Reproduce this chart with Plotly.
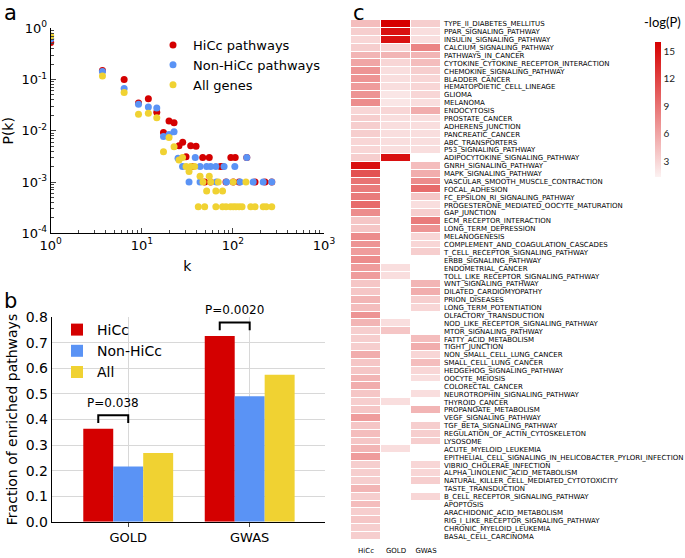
import plotly.graph_objects as go
import numpy as np

W, H = 685, 558
def px(x): return x / W
def py(y): return 1 - y / H

RED = "#d40000"
BLUE = "#5a93f5"
YELLOW = "#f0d232"

# ---------------- Panel a: degree distribution ----------------
hicc_k = [1.0, 3.7, 6.4, 9.2, 11.8, 14.6, 17.3, 19.9, 22.6, 25.6, 28.1, 30.6, 34.4, 36.2, 39.4,
          46.6, 49, 55, 57, 73, 77, 84, 95, 101, 106, 117, 142, 175, 225, 267]
hicc_p = [0.53, 0.15, 0.10, 0.035, 0.042, 0.023, 0.0093, 0.0155, 0.0144, 0.0051, 0.006, 0.0031, 0.0051, 0.002, 0.005,
          0.003, 0.001, 0.003, 0.001, 0.002, 0.002, 0.001, 0.003, 0.001, 0.003, 0.001, 0.003, 0.001, 0.001, 0.001]

non_k = [1.0, 3.7, 6.4, 9.2, 11.8, 14.6, 17.3, 19.9, 22.6, 25, 28, 33, 38.6, 43.6, 43.6, 51.5, 57, 65, 66,
         80, 85, 105, 120, 142, 167, 215, 267]
non_p = [0.62, 0.143, 0.067, 0.033, 0.029, 0.028, 0.0077, 0.0085, 0.0096, 0.0029, 0.002, 0.001, 0.003, 0.002, 0.001,
         0.002, 0.002, 0.002, 0.001, 0.002, 0.001, 0.002, 0.001, 0.003, 0.001, 0.001, 0.001]

all_k = [1.0, 3.7, 6.4, 9.2, 11.8, 14.6, 17.3, 19.9, 22.6, 25.6, 28, 30.6, 33, 34.4, 38, 43.6, 47, 51.5, 55, 57,
         65, 69, 77, 101, 139, 41.7, 49, 65, 77, 84, 94, 101, 108, 117, 126, 157, 175, 215, 232, 267]
all_p = [0.71, 0.117, 0.056, 0.021, 0.022, 0.018, 0.0039, 0.0074, 0.0049, 0.0027, 0.003, 0.002, 0.0016, 0.002, 0.002,
         0.0013, 0.001, 0.00067, 0.0013, 0.001, 0.00067, 0.001, 0.00067, 0.001, 0.001,
         0.00033, 0.00033, 0.00033, 0.00033, 0.00033, 0.00033, 0.00033, 0.00033, 0.00033, 0.00033,
         0.00033, 0.00033, 0.00033, 0.00033, 0.00033]

a_xticks = [1, 10, 100, 1000]
a_xticklabels = ["10<sup>0</sup>", "10<sup>1</sup>", "10<sup>2</sup>", "10<sup>3</sup>"]
a_yticks = [1e-4, 1e-3, 1e-2, 1e-1, 1]
a_yticklabels = ["10<sup>-4</sup>", "10<sup>-3</sup>", "10<sup>-2</sup>", "10<sup>-1</sup>", "10<sup>0</sup>"]

# ---------------- Panel b: enriched pathways ----------------
b_categories = ["GOLD", "GWAS"]
b_hicc = [0.364, 0.727]
b_nonhicc = [0.216, 0.491]
b_all = [0.269, 0.575]
b_pvalues = ["P=0.038", "P=0.0020"]

# ---------------- Panel c: heatmap ----------------
pathways = [
    "TYPE_II_DIABETES_MELLITUS", "PPAR_SIGNALING_PATHWAY", "INSULIN_SIGNALING_PATHWAY",
    "CALCIUM_SIGNALING_PATHWAY", "PATHWAYS_IN_CANCER", "CYTOKINE_CYTOKINE_RECEPTOR_INTERACTION",
    "CHEMOKINE_SIGNALING_PATHWAY", "BLADDER_CANCER", "HEMATOPOIETIC_CELL_LINEAGE", "GLIOMA",
    "MELANOMA", "ENDOCYTOSIS", "PROSTATE_CANCER", "ADHERENS_JUNCTION", "PANCREATIC_CANCER",
    "ABC_TRANSPORTERS", "P53_SIGNALING_PATHWAY", "ADIPOCYTOKINE_SIGNALING_PATHWAY",
    "GNRH_SIGNALING_PATHWAY", "MAPK_SIGNALING_PATHWAY", "VASCULAR_SMOOTH_MUSCLE_CONTRACTION",
    "FOCAL_ADHESION", "FC_EPSILON_RI_SIGNALING_PATHWAY", "PROGESTERONE_MEDIATED_OOCYTE_MATURATION",
    "GAP_JUNCTION", "ECM_RECEPTOR_INTERACTION", "LONG_TERM_DEPRESSION", "MELANOGENESIS",
    "COMPLEMENT_AND_COAGULATION_CASCADES", "T_CELL_RECEPTOR_SIGNALING_PATHWAY",
    "ERBB_SIGNALING_PATHWAY", "ENDOMETRIAL_CANCER", "TOLL_LIKE_RECEPTOR_SIGNALING_PATHWAY",
    "WNT_SIGNALING_PATHWAY", "DILATED_CARDIOMYOPATHY", "PRION_DISEASES", "LONG_TERM_POTENTIATION",
    "OLFACTORY_TRANSDUCTION", "NOD_LIKE_RECEPTOR_SIGNALING_PATHWAY", "MTOR_SIGNALING_PATHWAY",
    "FATTY_ACID_METABOLISM", "TIGHT_JUNCTION", "NON_SMALL_CELL_LUNG_CANCER", "SMALL_CELL_LUNG_CANCER",
    "HEDGEHOG_SIGNALING_PATHWAY", "OOCYTE_MEIOSIS", "COLORECTAL_CANCER", "NEUROTROPHIN_SIGNALING_PATHWAY",
    "THYROID_CANCER", "PROPANOATE_METABOLISM", "VEGF_SIGNALING_PATHWAY", "TGF_BETA_SIGNALING_PATHWAY",
    "REGULATION_OF_ACTIN_CYTOSKELETON", "LYSOSOME", "ACUTE_MYELOID_LEUKEMIA",
    "EPITHELIAL_CELL_SIGNALING_IN_HELICOBACTER_PYLORI_INFECTION", "VIBRIO_CHOLERAE_INFECTION",
    "ALPHA_LINOLENIC_ACID_METABOLISM", "NATURAL_KILLER_CELL_MEDIATED_CYTOTOXICITY", "TASTE_TRANSDUCTION",
    "B_CELL_RECEPTOR_SIGNALING_PATHWAY", "APOPTOSIS", "ARACHIDONIC_ACID_METABOLISM",
    "RIG_I_LIKE_RECEPTOR_SIGNALING_PATHWAY", "CHRONIC_MYELOID_LEUKEMIA", "BASAL_CELL_CARCINOMA",
]
heat_columns = ["HiCc", "GOLD", "GWAS"]
N = None
heat_hicc = [4.5, 3.5, 3, 3.5, 5, 6, 7, 7, 6.5, 7, 7.5, 3, 3.5, 3.5, 3.5, 3, 3, 3.5,
             15, 11, 9, 8.5, 8.5, 9.5, 7.5, 4, 4, 7.5, 7, 6.5, 7.5, 6.5, 6.5,
             4, 4, 5, 4.5, 7, 5, 3.5, 3.5, 3.5, 5.5, 4, 4, 5, 5.5, 4,
             3.5, 4, 6.5, 4, 4.5, 4, 5, 6.5, 3.5, 3.5, 3.5, 5, 3.5, 4.5, 3.5, 4, 3.5, 3.5]
heat_gold = [16, 15, 15, 3, 5, 3, 2.5, 2.5, 2.5, 2, 2, 3, 2.5, 2.5, 2.5, 2.5, 2.5, 15,
             N, N, N, N, N, N, N, N, N, N, N, N, N, 2.5, 2.5,
             N, N, N, N, N, 2.5, 4, N, N, N, N, N, N, N, N,
             2.5, N, N, N, N, N, 2.5, N, N, N, N, N, N, N, N, N, N, N]
heat_gwas = [3.5, 2.5, 2.5, 8, 5, 4.5, 3.5, 3, 3, 3, 2.5, 5.5, 2.5, 2.5, 2.5, 2.5, 2.5, N,
             4.5, 5.5, 7.5, 9.5, 4, 2.5, 3.5, 8.5, 7, 3, 3, 3.5, N, N, N,
             5, 5.5, 3.5, 3, N, N, N, 4.5, 5.5, 3, 4.5, 3, 2.5, N, 2.5,
             N, 5, N, 3.5, 3.5, 3.5, N, N, 3, 3, 3.5, N, 3, N, N, N, N, N]
cbar_ticks = [3, 6, 9, 12, 15]

FONT = "DejaVu Sans"
fig = go.Figure()

# panel a traces
for k, p, name, col in [(hicc_k, hicc_p, "HiCc pathways", RED),
                        (non_k, non_p, "Non-HiCc pathways", BLUE),
                        (all_k, all_p, "All genes", YELLOW)]:
    fig.add_trace(go.Scatter(x=k, y=p, mode="markers", name=name,
                             marker=dict(color=col, size=7, line=dict(width=0)),
                             xaxis="x", yaxis="y", legend="legend"))

# panel b traces
for vals, name, col in [(b_hicc, "HiCc", RED), (b_nonhicc, "Non-HiCc", BLUE), (b_all, "All", YELLOW)]:
    fig.add_trace(go.Bar(x=list(range(len(b_categories))), y=vals, name=name,
                         marker=dict(color=col, line=dict(width=0)),
                         xaxis="x2", yaxis="y2", legend="legend2"))

# panel c heatmap
z = [[h, g, w] for h, g, w in zip(heat_hicc, heat_gold, heat_gwas)]
fig.add_trace(go.Heatmap(
    z=z, x=heat_columns, y=pathways, xaxis="x3", yaxis="y3",
    zmin=1.3, zmax=16, xgap=1, ygap=1,
    colorscale=[[0, "rgb(252,242,242)"], [1, "rgb(214,0,0)"]],
    showscale=True, showlegend=False, hoverongaps=False,
    colorbar=dict(x=px(655), xanchor="left", y=py(109.5), yanchor="middle",
                  len=135 / H, lenmode="fraction", thickness=6, outlinewidth=0,
                  tickvals=cbar_ticks, ticks="", tickfont=dict(family="Lato", size=10, color="#222"),
                  ypad=0, xpad=0),
))

# brackets on panel b
n_groups = 3
bargap = 0.26
bw = (1 - bargap) / n_groups
shapes = []
annotations = []
for i, ptxt in enumerate(b_pvalues):
    x0 = i - bw
    x1 = i
    base = max(b_hicc[i], b_nonhicc[i]) + 0.022
    top = base + 0.031
    shapes.append(dict(type="path", xref="x2", yref="y2",
                       path=f"M {x0} {base} L {x0} {top} L {x1} {top} L {x1} {base}",
                       line=dict(color="black", width=2)))
    annotations.append(dict(x=(x0 + x1) / 2, y=top + 0.012, xref="x2", yref="y2", text=ptxt,
                            showarrow=False, yanchor="bottom", font=dict(size=12, family=FONT, color="black")))

# panel letters
for letter, lx, ly in [("a", 2, 13), ("b", 2, 301), ("c", 351, 13)]:
    annotations.append(dict(x=px(lx), y=py(ly), xref="paper", yref="paper", text=letter, showarrow=False,
                            xanchor="left", yanchor="middle", font=dict(size=21, family=FONT, color="black")))
annotations.append(dict(x=px(683), y=py(22), xref="paper", yref="paper", text="-log(P)", showarrow=False,
                        xanchor="right", yanchor="middle", font=dict(size=13, family="Lato", color="black")))

minor_vals = [m * 10.0 ** e for e in range(-4, 3) for m in range(2, 10)]

fig.update_layout(
    template="none",
    width=W, height=H, margin=dict(l=0, r=0, t=0, b=0, autoexpand=False),
    paper_bgcolor="white", plot_bgcolor="white",
    font=dict(family=FONT, color="black", size=13),
    barmode="group", bargap=bargap, bargroupgap=0,
    shapes=shapes, annotations=annotations,
    xaxis=dict(type="log", domain=[px(50.7), px(324)], anchor="y", range=[0, 3], automargin=False,
               showline=True, linecolor="black", linewidth=1, mirror=False, showgrid=False, zeroline=False,
               tickmode="array", tickvals=a_xticks, ticktext=a_xticklabels, ticks="inside", ticklen=5,
               tickfont=dict(size=13),
               minor=dict(tickmode="array", tickvals=[v for v in minor_vals if 1 < v < 1000], ticks="inside",
                          ticklen=3, showgrid=False),
               title=dict(text="k", font=dict(size=14), standoff=9)),
    yaxis=dict(type="log", domain=[py(233.3), py(28.3)], anchor="x", range=[-4, 0], automargin=False,
               showline=True, linecolor="black", linewidth=1, showgrid=False, zeroline=False,
               tickmode="array", tickvals=a_yticks, ticktext=a_yticklabels, ticks="inside", ticklen=5,
               tickfont=dict(size=13),
               minor=dict(tickmode="array", tickvals=[v for v in minor_vals if 1e-4 < v < 1], ticks="inside",
                          ticklen=3, showgrid=False),
               title=dict(text="P(k)", font=dict(size=14), standoff=4)),
    xaxis2=dict(domain=[px(51.7), px(325)], anchor="y2", range=[-0.63, 1.62], automargin=False,
                tickmode="array", tickvals=list(range(len(b_categories))), ticktext=b_categories,
                showline=True, linecolor="black", linewidth=1, showgrid=True, gridcolor="#d8d8d8",
                zeroline=False, ticks="outside", ticklen=4, tickfont=dict(size=13)),
    yaxis2=dict(domain=[py(521.7), py(317.3)], anchor="x2", range=[0, 0.8], dtick=0.1, tickformat=".1f",
                automargin=False,
                showline=True, linecolor="black", linewidth=1, showgrid=True, gridcolor="#d8d8d8",
                zeroline=False, ticks="", tickfont=dict(size=14),
                title=dict(text="Fraction of enriched pathways", font=dict(size=14), standoff=4)),
    xaxis3=dict(domain=[px(351), px(441)], anchor="y3", showgrid=False, zeroline=False, showline=False,
                automargin=False, ticks="", tickfont=dict(size=7, family=FONT), side="bottom",
                ticklabelstandoff=5),
    yaxis3=dict(domain=[py(540), py(20)], anchor="x3", side="right", autorange="reversed",
                automargin=False, showgrid=False, zeroline=False, showline=False, ticks="",
                tickfont=dict(size=7, family=FONT), ticklabelstandoff=2, tickmode="linear"),
    legend=dict(x=px(153), y=py(30), xanchor="left", yanchor="top", bgcolor="rgba(0,0,0,0)",
                font=dict(size=13), tracegroupgap=0),
    legend2=dict(x=px(57), y=py(314), xanchor="left", yanchor="top", bgcolor="rgba(0,0,0,0)",
                 font=dict(size=14), tracegroupgap=0),
)

fig.write_html("out.html", config={"displayModeBar": False},
               post_script="document.body.style.margin='0';")
